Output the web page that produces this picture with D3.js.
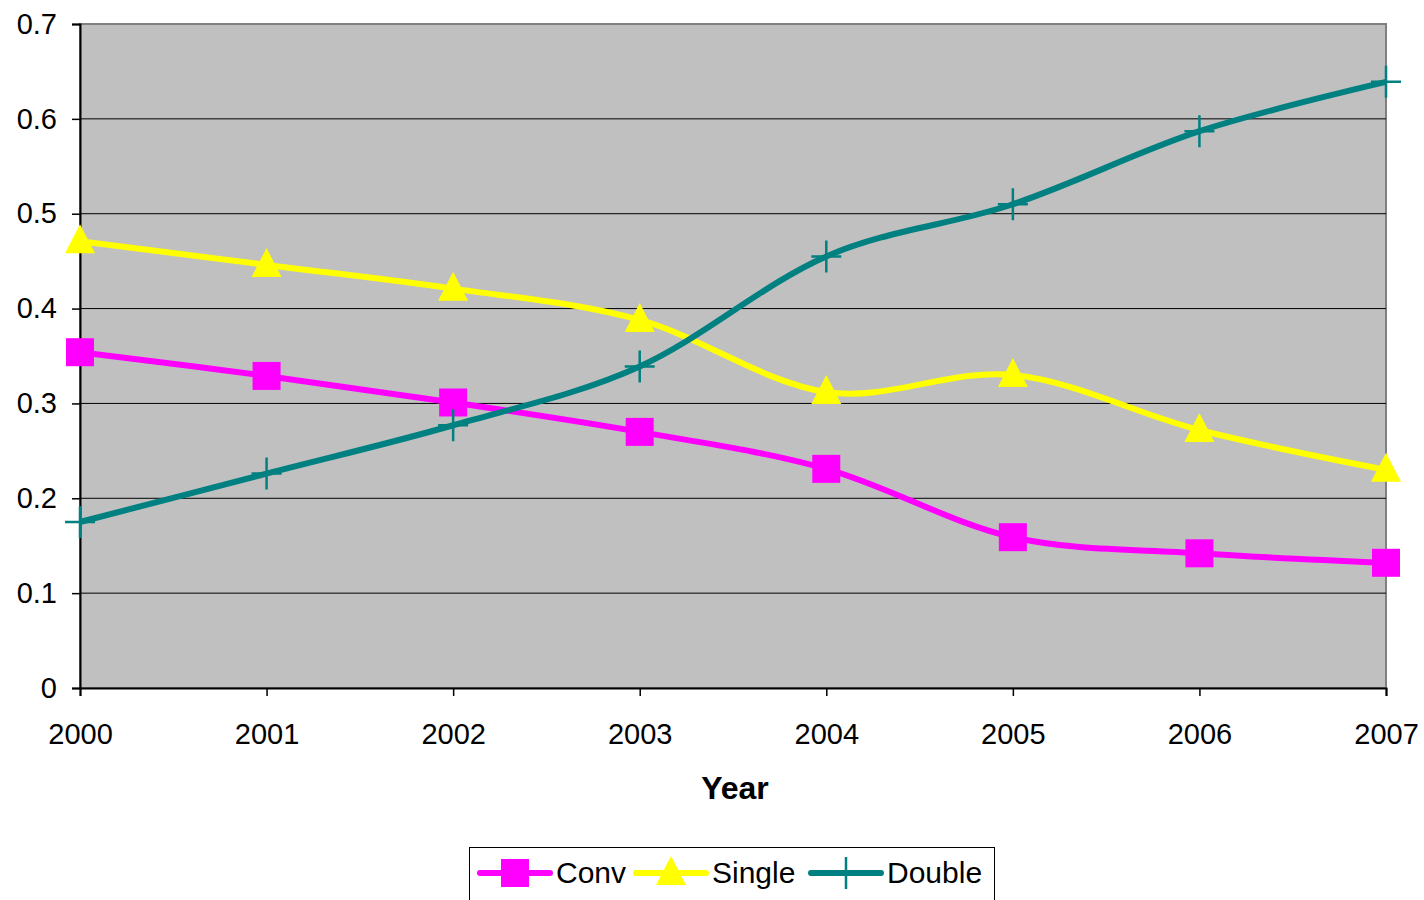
<!DOCTYPE html>
<html>
<head>
<meta charset="utf-8">
<script src="https://cdn.jsdelivr.net/npm/d3@7"></script>
<style>
  html, body { margin: 0; padding: 0; background: #fff; }
  svg { display: block; font-family: "Liberation Sans", Arial, sans-serif; }
</style>
</head>
<body>
<svg id="chart" width="1424" height="900"></svg>
<script>
// ─── Data ─────────────────────────────────────────────────────────────────────
const years      = [2000, 2001, 2002, 2003, 2004, 2005, 2006, 2007];
const convVals   = [0.354, 0.329, 0.301, 0.270, 0.231, 0.159, 0.142, 0.132];
const singleVals = [0.471, 0.446, 0.421, 0.388, 0.312, 0.330, 0.272, 0.230];
const doubleVals = [0.175, 0.226, 0.277, 0.339, 0.455, 0.510, 0.587, 0.639];
const yTicks     = [0, 0.1, 0.2, 0.3, 0.4, 0.5, 0.6, 0.7];

const series = [
  { name: 'Conv',   values: convVals,   color: '#FF00FF', marker: 'square' },
  { name: 'Single', values: singleVals, color: '#FFFF00', marker: 'triangle' },
  { name: 'Double', values: doubleVals, color: '#008080', marker: 'plus' }
];

// ─── Layout ───────────────────────────────────────────────────────────────────
const plot = { left: 80, right: 1386, top: 24, bottom: 688 };
const FONT = '"Liberation Sans", Arial, sans-serif';

const svg = d3.select('#chart');

const x = d3.scalePoint().domain(years).range([plot.left, plot.right]);
const y = d3.scaleLinear().domain([0, 0.7]).range([plot.bottom, plot.top]);

// Plot background
svg.append('rect')
  .attr('x', plot.left).attr('y', plot.top)
  .attr('width', plot.right - plot.left).attr('height', plot.bottom - plot.top)
  .attr('fill', '#C0C0C0')
  .attr('stroke', '#808080').attr('stroke-width', 2);

// Gridlines
svg.append('g')
  .selectAll('line')
  .data(yTicks.filter(t => t > 0 && t < 0.7))
  .join('line')
  .attr('x1', plot.left).attr('x2', plot.right)
  .attr('y1', d => y(d)).attr('y2', d => y(d))
  .attr('stroke', '#000').attr('stroke-width', 1);

// Y axis
const yAxis = svg.append('g')
  .attr('transform', `translate(${plot.left},0)`)
  .call(d3.axisLeft(y).tickValues(yTicks).tickSize(8).tickPadding(15)
    .tickFormat(d => d === 0 ? '0' : d3.format('.1f')(d)));
yAxis.select('.domain').attr('stroke', '#000').attr('stroke-width', 2);
yAxis.selectAll('.tick line').attr('stroke', '#000').attr('stroke-width', 1.5);
yAxis.selectAll('.tick text').attr('font-size', 29).attr('fill', '#000')
  .attr('font-family', FONT);

// X axis
const xAxis = svg.append('g')
  .attr('transform', `translate(0,${plot.bottom})`)
  .call(d3.axisBottom(x).tickSize(8).tickPadding(27).tickFormat(d3.format('d')));
xAxis.select('.domain').attr('stroke', '#000').attr('stroke-width', 2);
xAxis.selectAll('.tick line').attr('stroke', '#000').attr('stroke-width', 1.5);
xAxis.selectAll('.tick text').attr('font-size', 29).attr('fill', '#000')
  .attr('font-family', FONT);

// Axis title
svg.append('text')
  .attr('x', 735).attr('y', 799)
  .attr('text-anchor', 'middle')
  .attr('font-size', 32).attr('font-weight', 'bold')
  .text('Year');

// ─── Markers ──────────────────────────────────────────────────────────────────
function drawMarker(g, type, color, cx, cy) {
  if (type === 'square') {
    g.append('rect')
      .attr('x', cx - 14).attr('y', cy - 14)
      .attr('width', 28).attr('height', 28)
      .attr('fill', color);
  } else if (type === 'triangle') {
    g.append('path')
      .attr('d', `M${cx},${cy - 17} L${cx + 15},${cy + 12} L${cx - 15},${cy + 12} Z`)
      .attr('fill', color);
  } else {
    g.append('path')
      .attr('d', `M${cx - 15},${cy} H${cx + 15} M${cx},${cy - 16} V${cy + 16}`)
      .attr('stroke', color).attr('stroke-width', 2.5).attr('fill', 'none');
  }
}

// ─── Lines ────────────────────────────────────────────────────────────────────
const line = d3.line()
  .x((d, i) => x(years[i]))
  .y(d => y(d))
  .curve(d3.curveCatmullRom.alpha(0));

series.forEach(s => {
  const g = svg.append('g');
  g.append('path')
    .attr('d', line(s.values))
    .attr('fill', 'none')
    .attr('stroke', s.color)
    .attr('stroke-width', 6)
    .attr('stroke-linejoin', 'round');
  s.values.forEach((v, i) => drawMarker(g, s.marker, s.color, x(years[i]), y(v)));
});

// ─── Legend ───────────────────────────────────────────────────────────────────
const legend = svg.append('g');
legend.append('rect')
  .attr('x', 469.5).attr('y', 847.5)
  .attr('width', 525).attr('height', 60)
  .attr('fill', '#fff').attr('stroke', '#000').attr('stroke-width', 1);

const legendX = [480, 636, 811];
series.forEach((s, i) => {
  const lx = legendX[i];
  const ly = 873;
  legend.append('line')
    .attr('x1', lx).attr('x2', lx + 70)
    .attr('y1', ly).attr('y2', ly)
    .attr('stroke', s.color).attr('stroke-width', 6)
    .attr('stroke-linecap', 'round');
  drawMarker(legend, s.marker, s.color, lx + 35, ly);
  legend.append('text')
    .attr('x', lx + 76).attr('y', ly + 10)
    .attr('font-size', 30)
    .text(s.name);
});
</script>
</body>
</html>
